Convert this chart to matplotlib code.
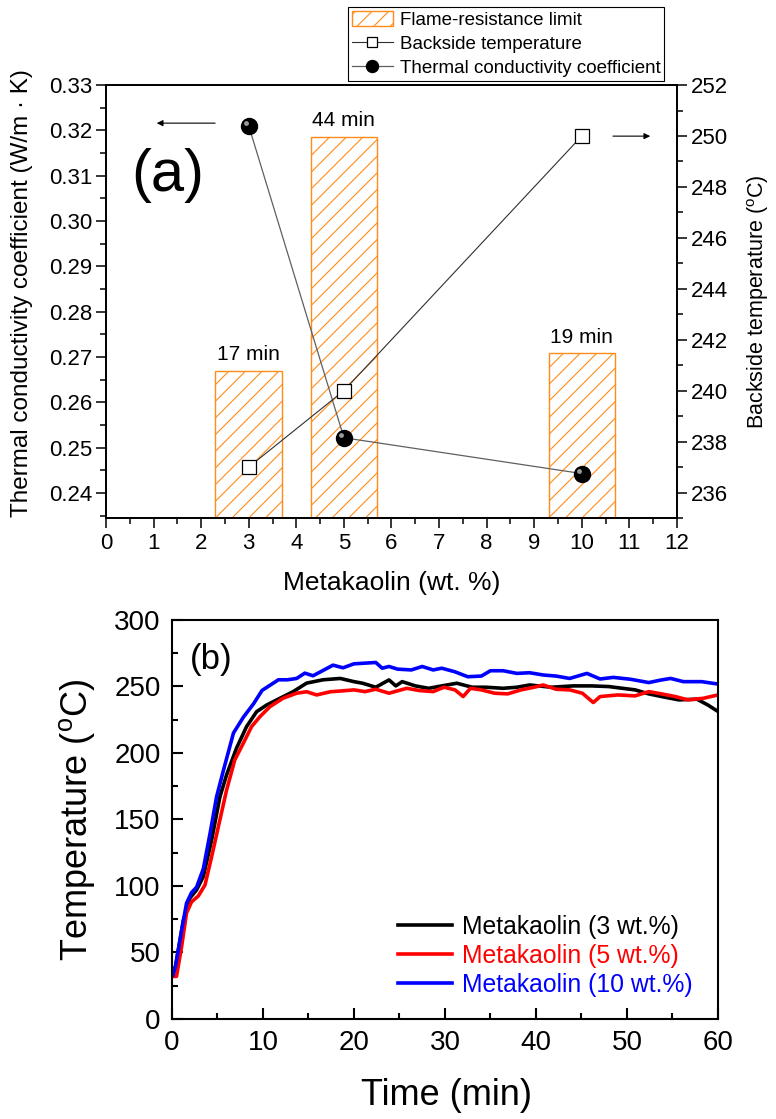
import matplotlib
matplotlib.use('Agg')
import matplotlib.pyplot as plt
from matplotlib import transforms
from matplotlib.ticker import MultipleLocator, FormatStrFormatter

plt.rcParams['font.family'] = ['Liberation Sans', 'DejaVu Sans']
plt.rcParams['mathtext.fontset'] = 'custom'
plt.rcParams['mathtext.rm'] = 'Liberation Sans'
plt.rcParams['hatch.linewidth'] = 0.8

# ---- panel (a) data ----
mk = [3, 5, 10]
limit_min = [17, 44, 19]
limit_lbl = ['17 min', '44 min', '19 min']
backside_T = [237, 240, 250]
conductivity = [0.321, 0.2522, 0.2443]

# ---- panel (b) data ----
t3 = [0.1, 0.4, 1.25, 1.98, 2.7, 3.44, 4.36, 5.27, 6.0, 7.1, 8.2, 9.3, 10.4, 11.9, 13.3,
      14.8, 16.6, 18.5, 20.0, 20.95, 22.4, 23.85, 24.6, 25.3, 26.75, 28.2, 29.65, 31.3,
      33.0, 34.5, 36.4, 37.9, 39.3, 41.7, 44.1, 46.1, 48.0, 49.5, 50.9, 52.4, 53.8, 55.7,
      57.7, 58.9, 60]
T3 = [33, 40, 74, 91, 97, 107, 134.6, 167, 183.5, 203.7, 219.8, 231, 236, 241.2, 246,
      252.5, 255, 256, 253.6, 252.4, 249.4, 254.9, 250.4, 253.6, 250.4, 248.6, 250.4, 252.4,
      249.4, 249.4, 248.6, 249.4, 251.1, 249.4, 250.4, 250.4, 249.9, 248.6, 247.4, 244.4,
      242.4, 239.9, 240.4, 236, 231.2]

t5 = [0.1, 0.5, 1.06, 1.6, 2.15, 2.9, 3.63, 4.36, 5.1, 6.0, 6.9, 7.84, 8.75, 9.67, 10.77,
      12.2, 13.7, 14.8, 15.9, 17.4, 18.8, 20.0, 21.2, 22.4, 23.85, 25.8, 27.2, 28.7, 29.9,
      31.1, 32.0, 32.8, 34.0, 35.45, 36.9, 38.35, 39.8, 40.8, 42.2, 43.7, 45.1, 46.3, 47.05,
      49.0, 50.9, 52.4, 53.8, 55.3, 56.7, 58.4, 60]
T5 = [32, 32, 54.4, 79.6, 88, 92.5, 100.7, 122, 144.6, 172, 194.7, 207.3, 219.8, 227.3,
      234.8, 241.1, 244.9, 246, 243.6, 246, 246.7, 247.4, 246.1, 247.9, 244.9, 248.6, 246.9,
      246.1, 249.4, 247.4, 242.4, 248.6, 247.4, 244.9, 244.4, 247.4, 249.4, 251.1, 247.9,
      247.4, 244.9, 237.9, 242.4, 243.6, 242.9, 246.1, 244.4, 242.4, 239.9, 241.1, 243.6]

t10 = [0.1, 0.4, 1.07, 1.6, 2.15, 2.7, 3.45, 4.2, 4.9, 5.66, 6.76, 7.86, 8.97, 9.9, 10.8,
       11.7, 12.7, 13.7, 14.6, 15.5, 16.6, 17.7, 18.8, 20.0, 21.2, 22.4, 23.1, 23.85, 24.8,
       26.3, 27.5, 28.7, 29.65, 31.1, 32.5, 34.0, 35.0, 36.4, 37.9, 39.3, 40.8, 42.2, 43.7,
       45.6, 47.05, 48.5, 50.4, 52.4, 53.8, 54.8, 56.2, 58.2, 60]
T10 = [33, 40, 67, 87, 95, 99, 113, 140, 167, 187, 215, 227, 237, 247, 251, 255, 255, 256,
       260, 258, 262, 266, 264, 267, 267.5, 268, 263.7, 265, 263, 262.4, 265, 262.4, 263.7,
       261, 257.3, 257.8, 261.8, 261.8, 259.8, 260.3, 258.6, 257.8, 256, 259.8, 255.6,
       256.8, 255.4, 252.9, 254.9, 256, 253.6, 253.6, 251.8]

orange = '#FF8C1A'

fig = plt.figure(figsize=(7.76, 11.19), dpi=100)

# ================= panel (a) =================
axb = fig.add_axes([0.1366, 0.5371, 0.7358, 0.3869])   # bars (hidden scale)
ax1 = axb.twinx()                                      # conductivity (left)
ax1.yaxis.tick_left()
ax1.yaxis.set_label_position('left')
axr = axb.twinx()                                      # backside temp (right)
axb.set_zorder(0)
ax1.set_zorder(1)
axr.set_zorder(2)
ax1.patch.set_visible(False)
axr.patch.set_visible(False)

bars = axb.bar(mk, limit_min, width=1.4, facecolor='none', edgecolor=orange,
               hatch='//', linewidth=1.0, label='Flame-resistance limit')
for x, h, s in zip(mk, limit_min, limit_lbl):
    axb.text(x, h + 1.9, s, ha='center', va='center', fontsize=15)
axb.set_ylim(0, 50)
axb.set_xlim(0, 12)
axb.yaxis.set_visible(False)

ln_c, = ax1.plot(mk, conductivity, '-', color='#606060', lw=0.9, marker='o', ms=11.5,
                 mfc='black', mec='black', label='Thermal conductivity coefficient')
hl = transforms.offset_copy(ax1.transData, fig=fig, x=-2.5, y=2.5, units='dots')
ax1.plot(mk, conductivity, 'o', ms=3.5, color='#9a9a9a', mec='none', transform=hl)
ax1.set_ylim(0.2345, 0.33)

ln_b, = axr.plot(mk, backside_T, '-', color='#303030', lw=0.8, marker='s', ms=10,
                 mfc='white', mec='black', mew=0.9, label='Backside temperature')
axr.set_ylim(235, 252)

for a in (axb, ax1, axr):
    for sp in a.spines.values():
        sp.set_linewidth(1.1)

axb.xaxis.set_major_locator(MultipleLocator(1))
axb.xaxis.set_minor_locator(MultipleLocator(0.5))
axb.tick_params(axis='x', which='major', direction='out', length=7, width=1.1,
                labelsize=16, pad=4)
axb.tick_params(axis='x', which='minor', direction='out', length=4, width=1.1)
axb.set_xlabel('Metakaolin (wt. %)', fontsize=19)
axb.xaxis.set_label_coords(0.5, -0.122)

ax1.yaxis.set_major_locator(MultipleLocator(0.01))
ax1.yaxis.set_minor_locator(MultipleLocator(0.005))
ax1.yaxis.set_major_formatter(FormatStrFormatter('%.2f'))
ax1.tick_params(axis='y', which='major', direction='out', length=7, width=1.1,
                labelsize=16, pad=3)
ax1.tick_params(axis='y', which='minor', direction='out', length=4, width=1.1)
ax1.set_ylabel('Thermal conductivity coefficient (W/m · K)', fontsize=17.5)
ax1.yaxis.set_label_coords(-0.128, 0.52)

axr.yaxis.set_major_locator(MultipleLocator(2))
axr.yaxis.set_minor_locator(MultipleLocator(1))
axr.tick_params(axis='y', which='major', direction='out', length=7, width=1.1,
                labelsize=16, pad=3)
axr.tick_params(axis='y', which='minor', direction='out', length=4, width=1.1)
axr.set_ylabel(r'Backside temperature ($^{\mathrm{o}}$C)', fontsize=15.5)
axr.yaxis.set_label_coords(1.119, 0.5)

ax1.text(0.109, 0.792, '(a)', transform=ax1.transAxes, fontsize=43,
         ha='center', va='center')

arr = dict(arrowstyle='-|>', color='black', lw=0.8, mutation_scale=9)
ax1.annotate('', xy=(0.084, 0.912), xytext=(0.196, 0.912),
             xycoords='axes fraction', arrowprops=arr)
ax1.annotate('', xy=(0.958, 0.882), xytext=(0.883, 0.882),
             xycoords='axes fraction', arrowprops=arr)

leg_a = fig.legend([bars, ln_b, ln_c],
                   ['Flame-resistance limit', 'Backside temperature',
                    'Thermal conductivity coefficient'],
                   loc='upper left', bbox_to_anchor=(0.4485, 0.9937), fontsize=13.5,
                   frameon=True, fancybox=False, edgecolor='black', framealpha=1,
                   borderpad=0.2, labelspacing=0.3, handlelength=2.2, handleheight=0.9,
                   handletextpad=0.35, markerscale=0.75, borderaxespad=0)
leg_a.get_frame().set_linewidth(0.8)

# ================= panel (b) =================
ax2 = fig.add_axes([0.2216, 0.0894, 0.7036, 0.3566])
ax2.plot(t3, T3, color='black', lw=2.6, label='Metakaolin (3 wt.%)')
ax2.plot(t5, T5, color='#FF0000', lw=2.6, label='Metakaolin (5 wt.%)')
ax2.plot(t10, T10, color='#0000FF', lw=2.6, label='Metakaolin (10 wt.%)')
ax2.set_xlim(0, 60)
ax2.set_ylim(0, 300)
ax2.xaxis.set_major_locator(MultipleLocator(10))
ax2.xaxis.set_minor_locator(MultipleLocator(5))
ax2.yaxis.set_major_locator(MultipleLocator(50))
ax2.yaxis.set_minor_locator(MultipleLocator(25))
ax2.tick_params(which='major', direction='in', length=8, width=1.5, labelsize=20, pad=8)
ax2.tick_params(which='minor', direction='in', length=4, width=1.5)
for sp in ax2.spines.values():
    sp.set_linewidth(1.5)
ax2.set_xlabel('Time (min)', fontsize=26)
ax2.xaxis.set_label_coords(0.503, -0.148)
ax2.set_ylabel(r'Temperature ($^{\mathrm{o}}$C)', fontsize=26)
ax2.yaxis.set_label_coords(-0.137, 0.5)
ax2.text(0.071, 0.90, '(b)', transform=ax2.transAxes, fontsize=25,
         ha='center', va='center')

ax2.legend(loc='lower left', bbox_to_anchor=(0.513, 0.109),
           bbox_transform=fig.transFigure, frameon=False, fontsize=17.8,
           labelcolor='linecolor', borderpad=0, borderaxespad=0, labelspacing=0.2,
           handlelength=2.2, handletextpad=0.4)

fig.savefig('out.png', dpi=100)
